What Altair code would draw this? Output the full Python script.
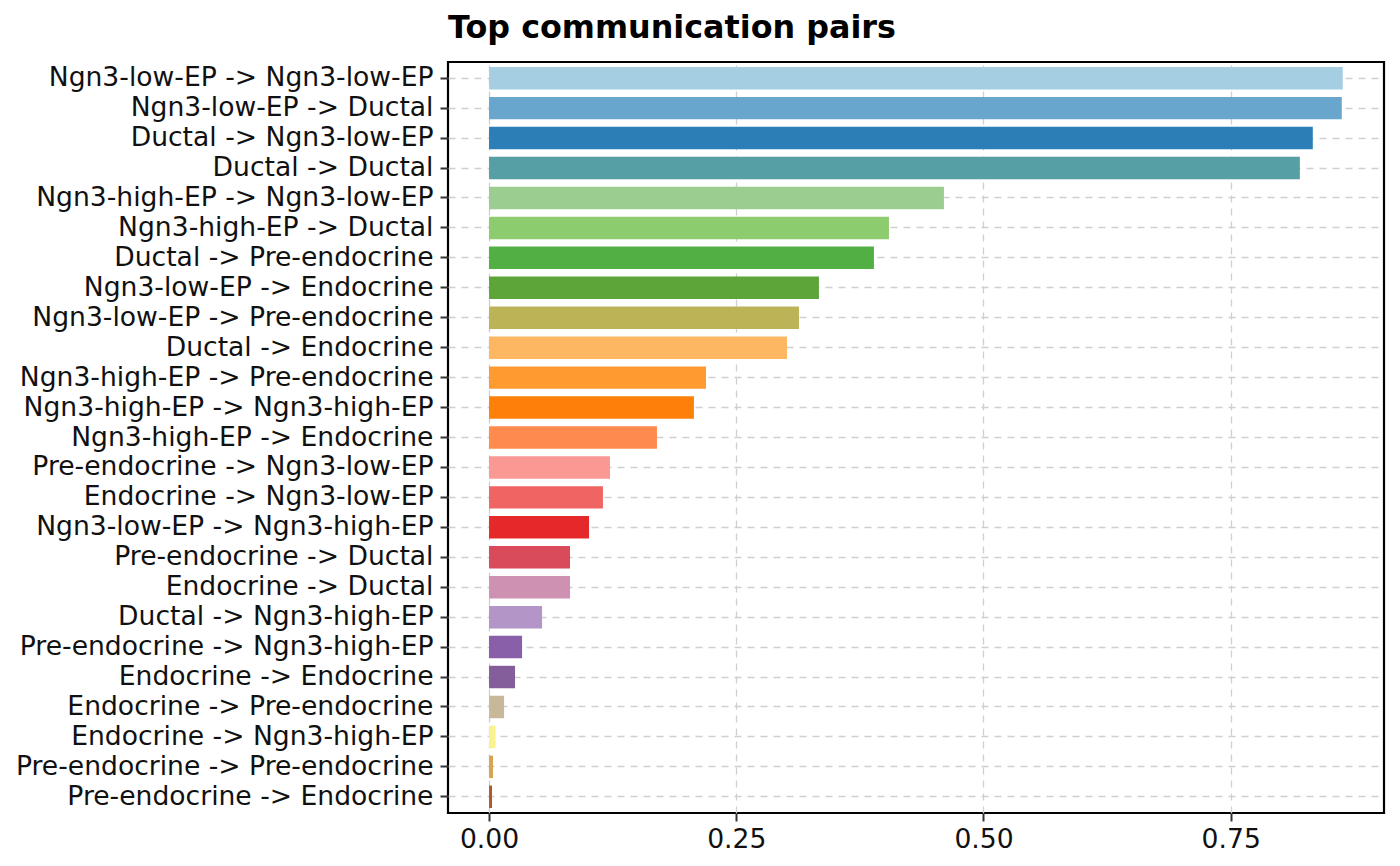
import altair as alt
import pandas as pd

pairs = [
    "Ngn3-low-EP -> Ngn3-low-EP",
    "Ngn3-low-EP -> Ductal",
    "Ductal -> Ngn3-low-EP",
    "Ductal -> Ductal",
    "Ngn3-high-EP -> Ngn3-low-EP",
    "Ngn3-high-EP -> Ductal",
    "Ductal -> Pre-endocrine",
    "Ngn3-low-EP -> Endocrine",
    "Ngn3-low-EP -> Pre-endocrine",
    "Ductal -> Endocrine",
    "Ngn3-high-EP -> Pre-endocrine",
    "Ngn3-high-EP -> Ngn3-high-EP",
    "Ngn3-high-EP -> Endocrine",
    "Pre-endocrine -> Ngn3-low-EP",
    "Endocrine -> Ngn3-low-EP",
    "Ngn3-low-EP -> Ngn3-high-EP",
    "Pre-endocrine -> Ductal",
    "Endocrine -> Ductal",
    "Ductal -> Ngn3-high-EP",
    "Pre-endocrine -> Ngn3-high-EP",
    "Endocrine -> Endocrine",
    "Endocrine -> Pre-endocrine",
    "Endocrine -> Ngn3-high-EP",
    "Pre-endocrine -> Pre-endocrine",
    "Pre-endocrine -> Endocrine",
]

scores = [
    0.8633, 0.8623, 0.8330, 0.8199, 0.4600, 0.4044, 0.3892, 0.3336,
    0.3134, 0.3013, 0.2194, 0.2072, 0.1698, 0.1223, 0.1152, 0.1011,
    0.0819, 0.0819, 0.0536, 0.0334, 0.0263, 0.0152, 0.0066, 0.0040,
    0.0030,
]

colors = [
    "#A6CEE3", "#68A6CE", "#2B7FB6", "#569FA5", "#9BCD91", "#8DCB6F",
    "#52AF43", "#5DA538", "#BCB356", "#FDB762", "#FD9A30", "#FE800A",
    "#FE8B4D", "#FA9893", "#F06464", "#E5292B", "#D94A5A", "#CE91B1",
    "#B395C7", "#895FAA", "#845E9A", "#C8B89A", "#F8F38E", "#D9A354",
    "#B15928",
]

x_ticks = [0.0, 0.25, 0.5, 0.75]

df = pd.DataFrame({"pair": pairs, "score": scores})

FONT = "DejaVu Sans"
FS = 26.6

chart = (
    alt.Chart(df)
    .mark_bar()
    .encode(
        x=alt.X(
            "score:Q",
            scale=alt.Scale(domain=[-0.0415, 0.905], nice=False, zero=False),
            axis=alt.Axis(
                values=x_ticks,
                format=".2f",
                title=None,
                domain=False,
                grid=True,
                gridColor="#cfcfcf",
                gridDash=[7, 6],
                gridWidth=1.3,
                ticks=True,
                tickSize=8,
                tickWidth=2,
                tickColor="#333333",
                labelFont=FONT,
                labelFontSize=FS,
                labelColor="#111111",
                labelPadding=5,
                labelFlush=False,
            ),
        ),
        y=alt.Y(
            "pair:N",
            sort=pairs,
            scale=alt.Scale(paddingInner=0.25, paddingOuter=0.166),
            axis=alt.Axis(
                title=None,
                domain=False,
                grid=True,
                gridColor="#cfcfcf",
                gridDash=[7, 6],
                gridWidth=1.3,
                ticks=True,
                tickSize=8,
                tickWidth=2,
                tickColor="#333333",
                labelFont=FONT,
                labelFontSize=FS,
                labelColor="#111111",
                labelPadding=7,
                labelLimit=0,
            ),
        ),
        color=alt.Color(
            "pair:N",
            scale=alt.Scale(domain=pairs, range=colors),
            legend=None,
        ),
    )
    .properties(
        width=936,
        height=751,
        autosize="none",
        padding={"left": 440, "top": 54, "right": 8, "bottom": 46},
        title=alt.TitleParams(
            "Top communication pairs",
            anchor="start",
            frame="group",
            font=FONT,
            fontSize=31.8,
            fontWeight="bold",
            color="black",
            offset=17,
        ),
    )
    .configure(background="white")
    .configure_view(stroke="#000000", strokeWidth=2.2, strokeOpacity=1)
)

chart.save("out.html", embed_options={"renderer": "svg", "actions": False})
